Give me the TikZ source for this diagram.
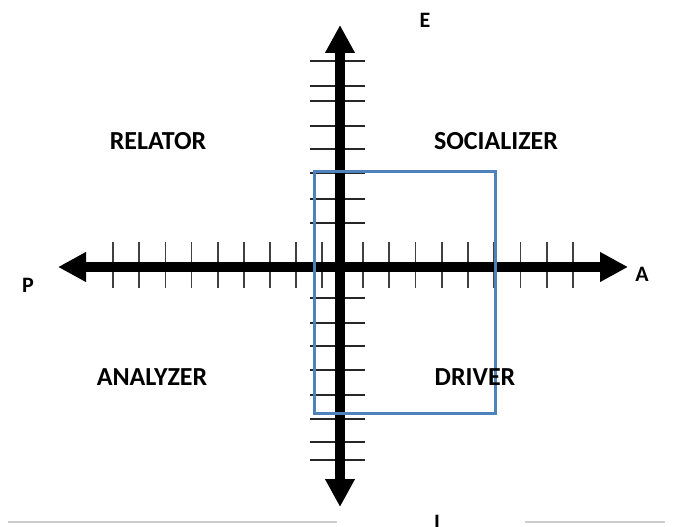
\documentclass[tikz,border=0pt]{standalone}
\usepackage{fontspec}
\setmainfont{Carlito}
\usetikzlibrary{arrows.meta}

\tikzset{
  axis/.style={line width=10pt, -{Triangle[length=28pt,width=28pt]}},
  tick/.style={line width=1.8pt, black!75},
  quadrant/.style={font=\fontsize{26}{30}\selectfont\bfseries},
  pole/.style={font=\fontsize{22}{26}\selectfont\bfseries},
}
\definecolor{boxblue}{RGB}{79,129,189}

\begin{document}
\begin{tikzpicture}[x=1pt,y=-1pt]
\useasboundingbox (0,0) rectangle (677,527);

% faint scan lines at the bottom
\draw[black!20, line width=1.2pt] (8,522) -- (337,522);
\draw[black!20, line width=1.2pt] (525,522) -- (665,522);

% ends of the two axes
\coordinate (o) at (340,267);
\coordinate (west) at (58,267);
\coordinate (east) at (628,267);
\coordinate (north) at (340,25);
\coordinate (south) at (340,507);

% ticks on the horizontal axis
\foreach \k in {0,...,8} {
  \draw[tick] (322-26.1*\k,242) -- (322-26.1*\k,288);
  \draw[tick] (363+26.25*\k,242) -- (363+26.25*\k,288);
}
% ticks on the vertical axis
\foreach \y in {61,86,101,126,149,173,199,223,298,323,346,370,395,419,442,460}
  \draw[tick, line width=2pt, black!85] (310,\y) -- (365,\y);

\draw[axis] (o) -- (west);
\draw[axis] (o) -- (east);
\draw[axis] (o) -- (north);
\draw[axis] (o) -- (south);

% the marked region
\draw[boxblue, line width=3pt] (314,171) rectangle (495,413);

\node[quadrant] (relator) at (158,141) {RELATOR};
\node[quadrant] (socializer) at (496,141) {SOCIALIZER};
\node[quadrant] (analyzer) at (152,377) {ANALYZER};
\node[quadrant] (driver) at (475,377) {DRIVER};

\node[pole] (p) at (28,285) {P};
\node[pole] (a) at (642,274) {A};
\node[pole] (e) at (425,20) {E};
\node[pole, anchor=north] (i) at (437,512) {I};
\end{tikzpicture}
\end{document}
